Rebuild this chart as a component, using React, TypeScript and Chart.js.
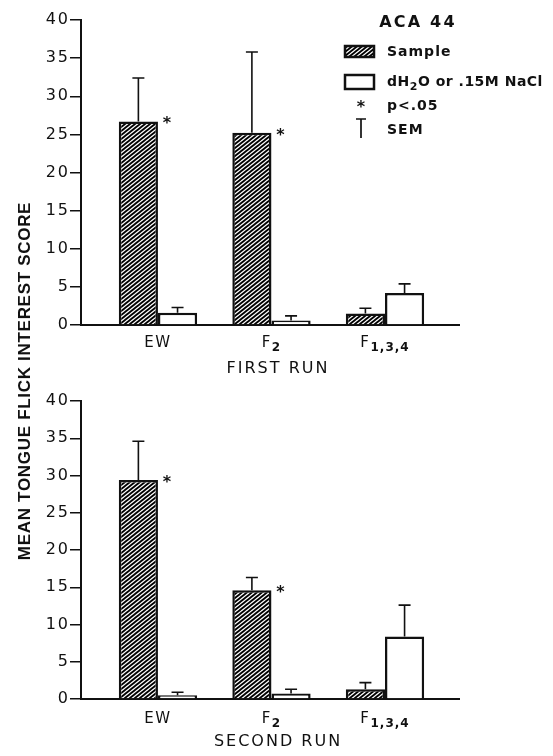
import React, { useEffect, useRef } from "react";
import { Chart, registerables } from "chart.js";

Chart.register(...registerables);

// Categories and tick labels
const categories = ["EW", "F2", "F1,3,4"];
const yTicks = [0, 5, 10, 15, 20, 25, 30, 35, 40];

// First run: mean scores and SEM
const firstSample = [26.7, 25.2, 1.5];
const firstSampleSem = [5.7, 10.6, 0.7];
const firstControl = [1.6, 0.6, 4.2];
const firstControlSem = [0.7, 0.6, 1.2];
const firstSignificant = [true, true, false];

// Second run: mean scores and SEM
const secondSample = [29.4, 14.6, 1.3];
const secondSampleSem = [5.2, 1.7, 0.9];
const secondControl = [0.5, 0.75, 8.4];
const secondControlSem = [0.4, 0.55, 4.2];
const secondSignificant = [true, true, false];

const INK = "#111";
const SANS = "'DejaVu Sans', 'Liberation Sans', sans-serif";

// Diagonal hatching for the sample bars
function makeHatch(ctx: CanvasRenderingContext2D): CanvasPattern | string {
  const w = 5;
  const h = 4;
  const tile = document.createElement("canvas");
  tile.width = w;
  tile.height = h;
  const t = tile.getContext("2d")!;
  t.fillStyle = "#fff";
  t.fillRect(0, 0, w, h);
  t.strokeStyle = "#000";
  t.lineWidth = 1.8;
  t.beginPath();
  for (let k = -1; k <= 1; k++) {
    for (let j = -1; j <= 1; j++) {
      t.moveTo(k * w, h + j * h);
      t.lineTo(k * w + w, j * h);
    }
  }
  t.stroke();
  return ctx.createPattern(tile, "repeat") || INK;
}

function spacedText(
  ctx: CanvasRenderingContext2D,
  text: string,
  x: number,
  y: number,
  font: string,
  spacing: number,
  align: CanvasTextAlign = "left",
  baseline: CanvasTextBaseline = "middle"
) {
  ctx.save();
  ctx.font = font;
  (ctx as any).letterSpacing = spacing + "px";
  ctx.textAlign = align;
  ctx.textBaseline = baseline;
  ctx.fillStyle = INK;
  ctx.fillText(text, x, y);
  ctx.restore();
}

function textWidth(ctx: CanvasRenderingContext2D, text: string, font: string, spacing: number) {
  ctx.save();
  ctx.font = font;
  (ctx as any).letterSpacing = spacing + "px";
  const w = ctx.measureText(text).width;
  ctx.restore();
  return w;
}

// Label with a leading capital part and a subscript tail, e.g. F + "1,3,4"
function drawSubLabel(ctx: CanvasRenderingContext2D, label: string, cx: number, cy: number) {
  const m = label.match(/^([A-Z]+)(.*)$/);
  const base = m ? m[1] : label;
  const sub = m ? m[2] : "";
  const baseFont = `15px ${SANS}`;
  const subFont = `bold 12px ${SANS}`;
  const wb = textWidth(ctx, base, baseFont, 1.5);
  const ws = sub ? textWidth(ctx, sub, subFont, 1) : 0;
  const start = cx - (wb + ws) / 2;
  spacedText(ctx, base, start, cy, baseFont, 1.5);
  if (sub) spacedText(ctx, sub, start + wb, cy + 5, subFont, 1);
}

type PanelProps = {
  height: number;
  padTop: number;
  padBottom: number;
  axisHeight: number;
  labelOffset: number;
  runOffset: number;
  runLabel: string;
  sample: number[];
  sampleSem: number[];
  control: number[];
  controlSem: number[];
  significant: boolean[];
  showLegend: boolean;
  top: number;
};

function drawLegend(ctx: CanvasRenderingContext2D, hatch: CanvasPattern | string) {
  spacedText(ctx, "ACA 44", 418, 23, `bold 16px ${SANS}`, 2.2, "center");

  ctx.save();
  ctx.lineWidth = 2.5;
  ctx.strokeStyle = INK;
  ctx.fillStyle = hatch;
  ctx.fillRect(345, 46, 29, 11);
  ctx.strokeRect(345, 46, 29, 11);
  ctx.fillStyle = "#fff";
  ctx.fillRect(345, 75, 29, 14);
  ctx.strokeRect(345, 75, 29, 14);
  ctx.restore();

  const lf = `bold 14px ${SANS}`;
  spacedText(ctx, "Sample", 387, 52, lf, 1);
  const w1 = textWidth(ctx, "dH", lf, 0.5);
  spacedText(ctx, "dH", 387, 82, lf, 0.5);
  const sf = `bold 11px ${SANS}`;
  spacedText(ctx, "2", 387 + w1, 87, sf, 0.5);
  const w2 = textWidth(ctx, "2", sf, 0.5);
  spacedText(ctx, "O or .15M NaCl", 387 + w1 + w2, 82, lf, 0.5);

  spacedText(ctx, "*", 361, 112, `bold 16px ${SANS}`, 0, "center", "alphabetic");
  spacedText(ctx, "p<.05", 387, 106, lf, 1);

  ctx.save();
  ctx.strokeStyle = INK;
  ctx.lineWidth = 1.7;
  ctx.beginPath();
  ctx.moveTo(361, 119);
  ctx.lineTo(361, 138);
  ctx.moveTo(356, 119);
  ctx.lineTo(366, 119);
  ctx.stroke();
  ctx.restore();
  spacedText(ctx, "SEM", 387, 130, lf, 1);
}

function Panel(p: PanelProps) {
  const ref = useRef<HTMLCanvasElement>(null);

  useEffect(() => {
    const canvas = ref.current;
    if (!canvas) return;
    const ctx2d = canvas.getContext("2d")!;
    const hatch = makeHatch(ctx2d);
    const sems = [p.sampleSem, p.controlSem];

    const decorations = {
      id: "panelDecorations",
      beforeDraw(chart: any) {
        (chart.ctx as any).letterSpacing = "2px";
      },
      afterDatasetsDraw(chart: any) {
        const ctx: CanvasRenderingContext2D = chart.ctx;
        const y = chart.scales.y;
        ctx.save();
        (ctx as any).letterSpacing = "0px";
        ctx.strokeStyle = INK;
        ctx.lineWidth = 1.6;
        chart.data.datasets.forEach((ds: any, di: number) => {
          const meta = chart.getDatasetMeta(di);
          meta.data.forEach((bar: any, i: number) => {
            const v = ds.data[i].y;
            const capY = y.getPixelForValue(v + sems[di][i]);
            ctx.beginPath();
            ctx.moveTo(bar.x, bar.y);
            ctx.lineTo(bar.x, capY);
            ctx.moveTo(bar.x - 6, capY);
            ctx.lineTo(bar.x + 6, capY);
            ctx.stroke();
          });
        });
        ctx.restore();

        // significance marks beside the sample bars
        const sampleMeta = chart.getDatasetMeta(0);
        sampleMeta.data.forEach((bar: any, i: number) => {
          if (!p.significant[i]) return;
          const right = bar.x + bar.width / 2;
          spacedText(ctx, "*", right + 9, bar.y + 7, `bold 16px ${SANS}`, 0, "center", "alphabetic");
        });
      },
      afterDraw(chart: any) {
        const ctx: CanvasRenderingContext2D = chart.ctx;
        const x = chart.scales.x;
        const area = chart.chartArea;
        categories.forEach((c, i) => {
          drawSubLabel(ctx, c, x.getPixelForValue(i), area.bottom + p.labelOffset);
        });
        spacedText(ctx, p.runLabel, 278, area.bottom + p.runOffset, `16px ${SANS}`, 2, "center");
        if (p.showLegend) drawLegend(ctx, hatch);
      },
    };

    const chart = new Chart(canvas, {
      type: "bar",
      data: {
        datasets: [
          {
            label: "Sample",
            data: p.sample.map((v, i) => ({ x: i, y: v })),
            backgroundColor: hatch as any,
            borderColor: INK,
            borderWidth: 2.5,
            categoryPercentage: 0.69,
            barPercentage: 1,
          },
          {
            label: "dH2O or .15M NaCl",
            data: p.control.map((v, i) => ({ x: i, y: v })),
            backgroundColor: "#fff",
            borderColor: INK,
            borderWidth: 2.5,
            categoryPercentage: 0.69,
            barPercentage: 1,
          },
        ],
      },
      options: {
        responsive: false,
        animation: false,
        events: [],
        layout: { padding: { left: 0, right: 94, top: p.padTop, bottom: p.padBottom } },
        plugins: { legend: { display: false }, tooltip: { enabled: false } },
        scales: {
          x: {
            type: "linear",
            offset: false,
            bounds: "data",
            grace: 0,
            min: -0.678,
            max: 2.652,
            afterFit: (s: any) => {
              s.height = p.axisHeight;
            },
            afterBuildTicks: (s: any) => {
              s.ticks = categories.map((_, i) => ({ value: i }));
            },
            grid: { display: false, offset: false },
            border: { display: true, color: INK, width: 2 },
            ticks: { display: false },
          },
          y: {
            min: 0,
            max: 40,
            afterFit: (s: any) => {
              s.width = 81;
            },
            afterBuildTicks: (s: any) => {
              s.ticks = yTicks.map((v) => ({ value: v }));
            },
            border: { display: true, color: INK, width: 2 },
            grid: {
              display: true,
              drawOnChartArea: false,
              drawTicks: true,
              tickLength: 11,
              color: INK,
              lineWidth: 1.5,
            },
            ticks: {
              color: INK,
              padding: 0,
              font: { family: SANS, size: 16 },
            },
          },
        },
      },
      plugins: [decorations],
    });
    return () => chart.destroy();
  }, []);

  return (
    <canvas
      ref={ref}
      width={553}
      height={p.height}
      style={{ position: "absolute", left: 0, top: p.top, width: 553, height: p.height }}
    />
  );
}

export default function App() {
  return (
    <div
      style={{
        position: "absolute",
        left: 0,
        top: 0,
        width: 553,
        height: 756,
        background: "#fff",
        overflow: "hidden",
      }}
    >
      <Panel
        top={0}
        height={385}
        padTop={20}
        padBottom={15}
        axisHeight={45}
        labelOffset={18}
        runOffset={44}
        runLabel="FIRST RUN"
        sample={firstSample}
        sampleSem={firstSampleSem}
        control={firstControl}
        controlSem={firstControlSem}
        significant={firstSignificant}
        showLegend={true}
      />
      <Panel
        top={370}
        height={386}
        padTop={31}
        padBottom={0}
        axisHeight={57}
        labelOffset={20}
        runOffset={43}
        runLabel="SECOND RUN"
        sample={secondSample}
        sampleSem={secondSampleSem}
        control={secondControl}
        controlSem={secondControlSem}
        significant={secondSignificant}
        showLegend={false}
      />
      <div
        style={{
          position: "absolute",
          left: 25 - 200,
          top: 381 - 10,
          width: 400,
          height: 20,
          lineHeight: "20px",
          textAlign: "center",
          transform: "rotate(-90deg)",
          fontFamily: "'Liberation Sans', Arial, sans-serif",
          fontWeight: "bold",
          fontSize: 17,
          letterSpacing: 0.7,
          color: INK,
          whiteSpace: "nowrap",
        }}
      >
        MEAN TONGUE FLICK INTEREST SCORE
      </div>
    </div>
  );
}
